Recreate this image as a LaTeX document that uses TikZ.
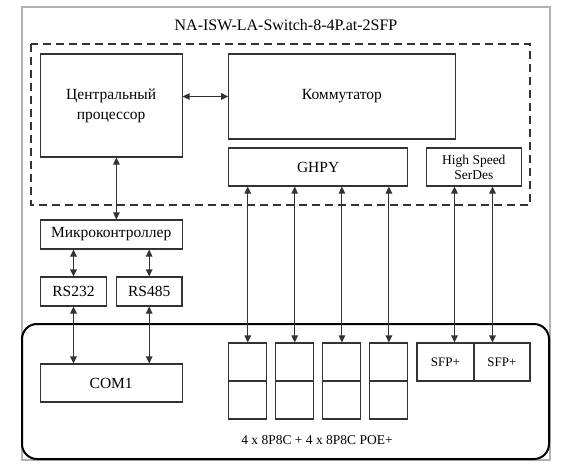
\documentclass[tikz,border=0pt]{standalone}
\usepackage{fontspec}
\setmainfont{Liberation Serif}
\usetikzlibrary{arrows.meta,calc}
\definecolor{ln}{HTML}{333333}
\tikzset{
  box/.style={draw=ln, line width=1.1pt, inner sep=0pt, align=center, font=\fontsize{15.5}{20}\selectfont},
  arr/.style={draw=ln, line width=1.1pt, {Triangle[length=7pt,width=6.5pt]}-{Triangle[length=7pt,width=6.5pt]}},
}
\begin{document}
\begin{tikzpicture}[x=1pt,y=-1pt]
\useasboundingbox (0,0) rectangle (585,463);
% outer frame
\draw[gray!60, line width=1.6pt] (22,7) rectangle (550,460);
% title
\node[font=\fontsize{16}{19}\selectfont] (title) at (286,25) {NA-ISW-LA-Switch-8-4P.at-2SFP};
% dashed region
\draw[ln, line width=1.3pt, dash pattern=on 8pt off 5pt] (31,44) rectangle (530,205);
% bottom rounded region
\draw[black, line width=2pt, rounded corners=15pt] (22,324) rectangle (549,459);

% boxes
\node[box, minimum width=141.7pt, minimum height=103pt] (cpu) at (111.2,105.5) {Центральный\\процессор};
\node[box, minimum width=226.3pt, minimum height=85pt] (sw) at (341.9,96.5) {Коммутатор};
\node[box, minimum width=178.8pt, minimum height=38pt] (ghpy) at (318.1,167) {GHPY};
\node[box, minimum width=94.5pt, minimum height=38pt, font=\fontsize{13.5}{15}\selectfont] (hss) at (473.8,167) {High Speed\\SerDes};
\node[box, minimum width=141.7pt, minimum height=29pt] (mcu) at (111.2,234.5) {Микроконтроллер};
\node[box, minimum width=66.4pt, minimum height=29pt] (rsa) at (73.5,291.5) {RS232};
\node[box, minimum width=65.6pt, minimum height=29pt] (rsb) at (149.2,291.5) {RS485};
\node[box, minimum width=141.7pt, minimum height=38pt] (com) at (111.2,383) {COM1};

% RJ45 ports
\foreach \n/\cx in {1/247.75,2/294.7,3/341.9,4/388.9}{
  \node[box, minimum width=38pt, minimum height=38pt] (rjt\n) at (\cx,362) {};
  \node[box, minimum width=38pt, minimum height=38pt] (rjb\n) at (\cx,400) {};
}
% SFP ports
\node[box, minimum width=57pt, minimum height=38pt, font=\fontsize{13}{15}\selectfont] (sfpa) at (445.5,362) {SFP+};
\node[box, minimum width=56pt, minimum height=38pt, font=\fontsize{13}{15}\selectfont] (sfpb) at (502,362) {SFP+};

\node[font=\fontsize{13.5}{16}\selectfont] (lbl) at (317,440) {4 x 8P8C + 4 x 8P8C POE+};

% connectors
\draw[arr] (cpu.east |- sw.west) -- (sw.west);
\coordinate (cm) at ($(cpu.south)+(5.2,0)$);
\draw[arr] (cm) -- (cm |- mcu.north);
\draw[arr] (mcu.south -| rsa.north) -- (rsa.north);
\draw[arr] (mcu.south -| rsb.north) -- (rsb.north);
\draw[arr] (rsa.south) -- (rsa.south |- com.north);
\draw[arr] (rsb.south) -- (rsb.south |- com.north);
\foreach \n in {1,2,3,4}{
  \draw[arr] (ghpy.south -| rjt\n.north) -- (rjt\n.north);
}
\coordinate (ha) at ($(hss.south)+(-19.3,0)$);
\coordinate (hb) at ($(hss.south)+(18.7,0)$);
\draw[arr] (ha) -- (ha |- sfpa.north);
\draw[arr] (hb) -- (hb |- sfpb.north);
\end{tikzpicture}
\end{document}
